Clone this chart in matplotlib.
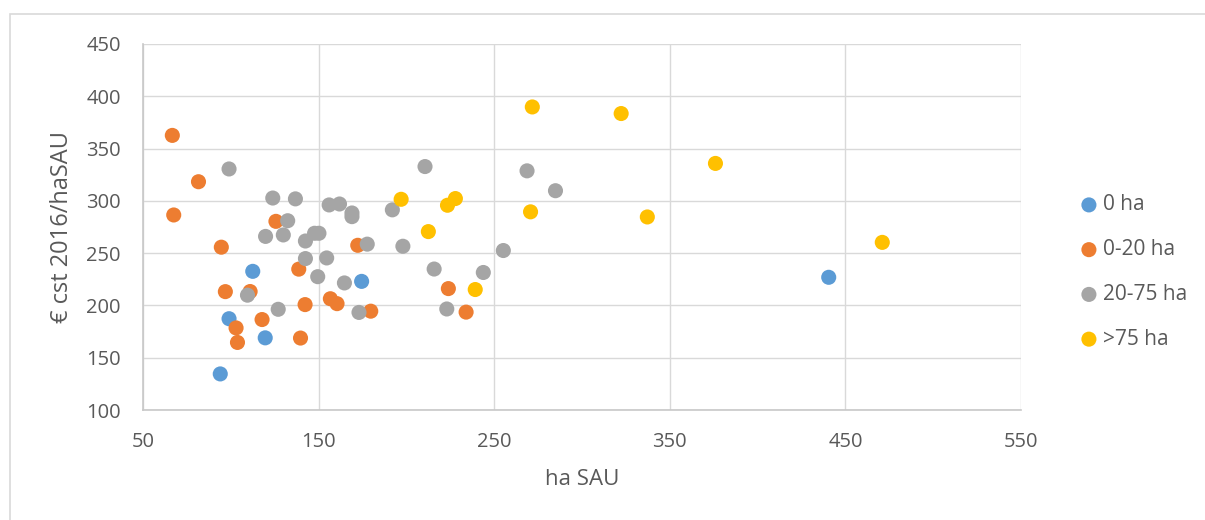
import matplotlib.pyplot as plt
from matplotlib.patches import Rectangle

# ---------------------------------------------------------------
# Data (ha SAU vs € cst 2016/haSAU)
# ---------------------------------------------------------------
x_0ha = [94, 99, 112.5, 119.6, 174.5, 440.5]
y_0ha = [134.5, 187.3, 232.6, 169, 223, 226.9]

x_0_20 = [66.7, 67.5, 81.6, 94.6, 96.9, 103, 103.8, 111, 117.8, 125.7,
          138.7, 139.7, 142.3, 156.7, 160.5, 172.3, 179.7, 223.9, 234]
y_0_20 = [362.6, 286.5, 318.3, 255.7, 213.2, 178.5, 164.6, 213.3, 186.5, 280.4,
          234.7, 168.8, 200.8, 206.4, 201.7, 257.5, 194.5, 216.1, 193.6]

x_20_75 = [99, 109.5, 119.8, 123.9, 127, 129.9, 132.4, 136.8, 142.5, 142.5,
           147.7, 150.2, 149.5, 154.6, 156, 161.9, 164.7, 169, 169, 173,
           177.7, 192, 198, 210.6, 215.8, 223, 243.8, 255.2, 268.7, 284.9]
y_20_75 = [330.5, 209.8, 266, 302.7, 196.3, 267.4, 281, 301.9, 261.6, 244.8,
           269, 269, 227.5, 245.4, 296.1, 297, 221.5, 288.4, 284.9, 193.3,
           258.6, 291.4, 256.6, 332.8, 234.8, 196.6, 231.5, 252.5, 328.7, 309.7]

x_75 = [197, 212.5, 223.4, 227.9, 239.2, 270.7, 271.7, 322.3, 337.2, 376, 471]
y_75 = [301.5, 270.6, 295.8, 302.2, 215.2, 289.5, 389.8, 383.5, 284.6, 335.8, 260.3]

x_ticks = [50, 150, 250, 350, 450, 550]
y_ticks = [100, 150, 200, 250, 300, 350, 400, 450]

# ---------------------------------------------------------------
# Excel-style palette
# ---------------------------------------------------------------
C_BLUE   = "#5B9BD5"
C_ORANGE = "#ED7D31"
C_GRAY   = "#A5A5A5"
C_YELLOW = "#FFC000"
TEXT     = "#595959"
GRID     = "#D9D9D9"

plt.rcParams["font.family"] = ["Open Sans", "DejaVu Sans"]

fig = plt.figure(figsize=(12.05, 5.2), dpi=100)
ax = fig.add_axes([143 / 1205, 1 - 410 / 520, (1021 - 143) / 1205, (410 - 44) / 520])

# chart-area border (runs off the right and bottom of the image)
fig.patches.append(Rectangle((10 / 1205, -0.1), 1.2, 0.1 + (520 - 14) / 520,
                             transform=fig.transFigure, fill=False,
                             edgecolor="#D9D9D9", linewidth=1.2))

series = [
    (x_0ha, y_0ha, C_BLUE, "0 ha"),
    (x_0_20, y_0_20, C_ORANGE, "0-20 ha"),
    (x_20_75, y_20_75, C_GRAY, "20-75 ha"),
    (x_75, y_75, C_YELLOW, ">75 ha"),
]
for i, (xs, ys, col, lab) in enumerate(series):
    ax.scatter(xs, ys, s=118, color=col, edgecolors="none", label=lab, zorder=3 + i)

ax.set_xlim(50, 550)
ax.set_ylim(100, 450)
ax.set_xticks(x_ticks)
ax.set_yticks(y_ticks)
ax.grid(True, color=GRID, linewidth=1.0, zorder=0)
ax.set_axisbelow(True)
for side in ("top", "right"):
    ax.spines[side].set_visible(False)
for side in ("left", "bottom"):
    ax.spines[side].set_color("#C8C8C8")
    ax.spines[side].set_linewidth(1.2)
ax.tick_params(length=0, pad=16, labelsize=14.5, colors=TEXT)

ax.set_xlabel("ha SAU", fontsize=16, color=TEXT, labelpad=12)
ax.set_ylabel("€ cst 2016/haSAU", fontsize=17, color=TEXT, labelpad=9)

fig.legend(loc="center left", bbox_to_anchor=(1078.5 / 1205, 1 - 272 / 520),
           frameon=False, fontsize=15, labelcolor=TEXT, handletextpad=0.17,
           handlelength=1.0, labelspacing=1.14, borderpad=0, borderaxespad=0)

fig.savefig("out.png", dpi=100, facecolor="white")
